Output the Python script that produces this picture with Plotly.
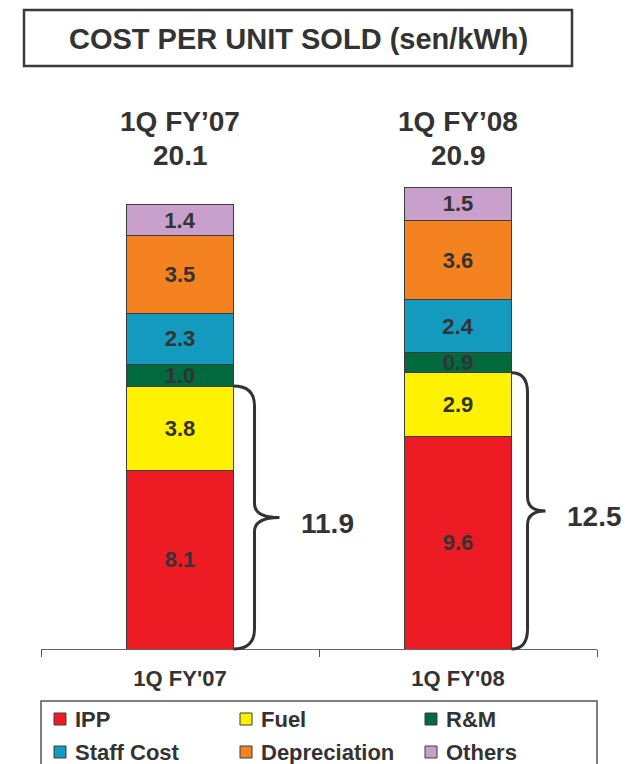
import plotly.graph_objects as go

# ---- data (sen/kWh) ----
quarters = ["1Q FY'07", "1Q FY'08"]
headers = ["1Q FY’07", "1Q FY’08"]
components = ["IPP", "Fuel", "R&M", "Staff Cost", "Depreciation", "Others"]
ipp = [8.1, 9.6]
fuel = [3.8, 2.9]
rm = [1.0, 0.9]
staff_cost = [2.3, 2.4]
depreciation = [3.5, 3.6]
others = [1.4, 1.5]

series = [ipp, fuel, rm, staff_cost, depreciation, others]
colors = ["#ED1C24", "#FFF200", "#00693E", "#1499BF", "#F58220", "#C9A0CC"]

# ---- layout geometry (pixels) ----
FONT = "Liberation Sans"
INK = "#333333"
W, H = 635, 764
ML, MR, MT, MB = 41, 38, 100, 115
PW = W - ML - MR
PH = H - MT - MB
YMAX = 24.85
BAR_W = 0.385


def px(x):
    return (x - ML) / PW


def py(y):
    return (H - MB - y) / PH


fig = go.Figure()
for name, vals, col in zip(components, series, colors):
    fig.add_trace(go.Bar(
        x=quarters, y=vals, name=name, width=BAR_W,
        marker=dict(color=col, line=dict(color="#3c3c3c", width=1)),
        text=[f"{v:.1f}" for v in vals],
        textposition="inside", insidetextanchor="middle", textangle=0,
        textfont=dict(family=FONT, size=22, color=INK, weight="bold"),
        showlegend=False, hoverinfo="name+y",
    ))

shapes = []
annotations = []

# title box
shapes.append(dict(type="rect", xref="paper", yref="paper",
                   x0=px(24), x1=px(572), y0=py(66), y1=py(10),
                   line=dict(color="#3a3a3a", width=2.5)))
annotations.append(dict(xref="paper", yref="paper", x=px(298), y=py(39),
                        text="COST PER UNIT SOLD (sen/kWh)", showarrow=False,
                        xanchor="center", yanchor="middle",
                        font=dict(family=FONT, size=29, color=INK, weight="bold")))

# quarter header and total above each bar
for i, q in enumerate(quarters):
    total = sum(s[i] for s in series)
    annotations.append(dict(xref="x", yref="paper", x=q, y=py(122),
                            text=headers[i], showarrow=False,
                            xanchor="center", yanchor="middle",
                            font=dict(family=FONT, size=28, color=INK, weight="bold")))
    annotations.append(dict(xref="x", yref="paper", x=q, y=py(156),
                            text=f"{total:.1f}", showarrow=False,
                            xanchor="center", yanchor="middle",
                            font=dict(family=FONT, size=28, color=INK, weight="bold")))

# curly braces grouping IPP + Fuel
brace_geom = [(21, 46), (16, 34)]  # (spine offset, tip offset) in px from bar edge
r_end, r_mid = 20 / PH, 14 / PH
for i, q in enumerate(quarters):
    sub = ipp[i] + fuel[i]
    x0 = (i + 0.5) / 2 + BAR_W / 4
    xv = x0 + brace_geom[i][0] / PW
    xt = x0 + brace_geom[i][1] / PW
    ytop = sub / YMAX
    ymid = ytop / 2
    ybot = 0.0
    path = (f"M{x0},{ytop} Q{xv},{ytop} {xv},{ytop - r_end} "
            f"L{xv},{ymid + r_mid} Q{xv},{ymid} {xt},{ymid} "
            f"Q{xv},{ymid} {xv},{ymid - r_mid} "
            f"L{xv},{ybot + r_end} Q{xv},{ybot} {x0},{ybot}")
    shapes.append(dict(type="path", xref="paper", yref="paper", path=path,
                       line=dict(color=INK, width=3)))
    annotations.append(dict(xref="paper", yref="paper", x=xt + 19 / PW, y=ymid,
                            yshift=-6, text=f"{sub:.1f}", showarrow=False,
                            xanchor="left", yanchor="middle",
                            font=dict(family=FONT, size=28, color=INK, weight="bold")))

# legend box
shapes.append(dict(type="rect", xref="paper", yref="paper",
                   x0=px(41), x1=px(597), y0=py(790), y1=py(701),
                   line=dict(color="#555555", width=1.5)))
col_x = [54, 240, 425]
row_y = [719, 752]
SQ = 12
for k, (name, col) in enumerate(zip(components, colors)):
    cx = col_x[k % 3]
    cy = row_y[k // 3]
    shapes.append(dict(type="rect", xref="paper", yref="paper",
                       x0=px(cx), x1=px(cx + SQ), y0=py(cy + SQ / 2), y1=py(cy - SQ / 2),
                       fillcolor=col, line=dict(color="#3c3c3c", width=1)))
    annotations.append(dict(xref="paper", yref="paper", x=px(cx + SQ + 7), y=py(cy),
                            text=name, showarrow=False, xanchor="left", yanchor="middle",
                            font=dict(family=FONT, size=22, color=INK, weight="bold")))

fig.update_layout(
    width=W, height=H,
    margin=dict(l=ML, r=MR, t=MT, b=MB, autoexpand=False),
    barmode="stack",
    uniformtext=dict(minsize=22, mode="show"),
    paper_bgcolor="white", plot_bgcolor="white",
    shapes=shapes, annotations=annotations,
    showlegend=False,
    xaxis=dict(type="category", range=[-0.5, 1.5], showgrid=False,
               showline=True, linecolor="#666666", linewidth=1,
               ticks="outside", tickson="boundaries", ticklen=7, tickcolor="#555555",
               ticklabelstandoff=10,
               tickfont=dict(family=FONT, size=22, color=INK, weight="bold")),
    yaxis=dict(range=[0, YMAX], visible=False, showgrid=False, zeroline=False),
)

fig.write_html("out.html")
